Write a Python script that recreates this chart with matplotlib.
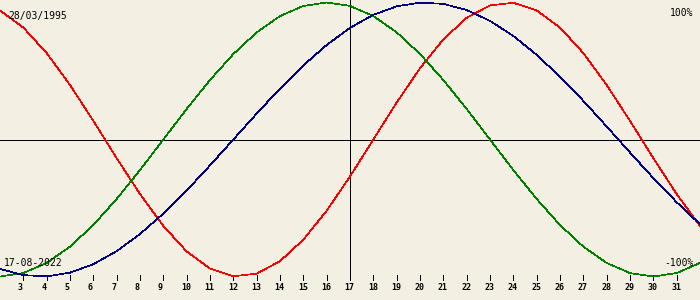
import matplotlib
matplotlib.use("Agg")
import matplotlib.pyplot as plt

# Data (percent, one value per day)
days = list(range(2, 33))
physical = [94.2, 81.7, 63.1, 39.8, 13.6, -13.6, -39.8, -63.1, -81.7, -94.2,
            -99.8, -97.9, -88.8, -73.1, -52.0, -27.0, 0.0, 27.0, 52.0, 73.1,
            88.8, 97.9, 99.8, 94.2, 81.7, 63.1, 39.8, 13.6, -13.6, -39.8, -63.1]
emotional = [-100.0, -97.5, -90.1, -78.2, -62.4, -43.4, -22.3, 0.0, 22.3, 43.4,
             62.4, 78.2, 90.1, 97.5, 100.0, 97.5, 90.1, 78.2, 62.4, 43.4,
             22.3, 0.0, -22.3, -43.4, -62.4, -78.2, -90.1, -97.5, -100.0, -97.5, -90.1]
intellectual = [-94.5, -99.0, -99.9, -97.2, -91.0, -81.5, -69.0, -54.1, -37.2, -18.9,
                0.0, 18.9, 37.2, 54.1, 69.0, 81.5, 91.0, 97.2, 99.9, 99.0,
                94.5, 86.6, 75.6, 61.8, 45.8, 28.2, 9.5, -9.5, -28.2, -45.8, -61.8]
tick_days = list(range(3, 32))
today = 17
birth_label = "28/03/1995"
date_label = "17-08-2022"
top_label = "100%"
bottom_label = "-100%"

BG = "#f3efe2"
W, H = 700, 300
CENTER, AMP = 139.5, 1.37  # pixel row of 0 %, pixels per percent

fig = plt.figure(figsize=(7, 3), dpi=100, facecolor=BG)
ax = fig.add_axes([0, 0, 1, 1])
ax.set_facecolor(BG)
ax.set_xlim(2, 32)
ax.set_ylim((CENTER - H) / AMP, CENTER / AMP)
ax.axis("off")

lw = 0.5
ax.axhline(0, color="black", lw=0.72, antialiased=False)
ax.axvline(today, ymin=1 - 280 / H, ymax=1, color="black", lw=0.72, antialiased=False)

xt = ax.get_xaxis_transform()
ax.vlines(tick_days, 1 - 280 / H, 1 - 275 / H, transform=xt, color="black", lw=0.72,
          antialiased=False)
for d in tick_days:
    ax.text(d - 0.236, 1 - 288 / H, str(d), transform=xt, ha="left", va="center",
            fontsize=6, family="DejaVu Sans Mono", fontweight="bold", color="black")

ax.plot(days, physical, color="#ff0000", lw=lw, antialiased=False)
ax.plot(days, emotional, color="#008000", lw=lw, antialiased=False)
ax.plot(days, intellectual, color="#000080", lw=lw, antialiased=False)

def px(x, y):
    return x / W, 1 - y / H

tf = ax.transAxes
ax.text(*px(8, 16.5), birth_label, transform=tf, ha="left", va="center",
        fontsize=7, family="DejaVu Sans Mono", color="black")
ax.text(*px(693, 12.5), top_label, transform=tf, ha="right", va="center",
        fontsize=7, family="DejaVu Sans Mono", color="black")
ax.text(*px(4, 262.5), date_label, transform=tf, ha="left", va="center",
        fontsize=7, family="DejaVu Sans Mono", color="black")
ax.text(*px(694, 262.5), bottom_label, transform=tf, ha="right", va="center",
        fontsize=7, family="DejaVu Sans Mono", color="black")

fig.savefig("out.png", dpi=100, facecolor=BG)
